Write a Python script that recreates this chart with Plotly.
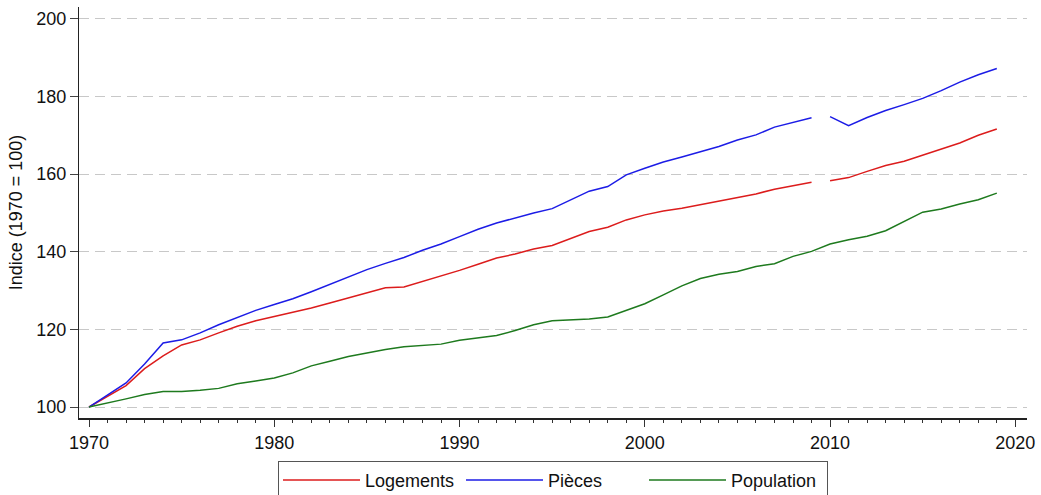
import plotly.graph_objects as go

# Years
years_old = list(range(1970, 2010))
years_new = list(range(2010, 2020))
years_all = list(range(1970, 2020))

# Logements (index 1970 = 100), old series 1970-2009 and new series 2010-2019
logements_old = [100, 102.7, 105.5, 109.9, 113.2, 116.0, 117.3, 119.1, 120.8, 122.2,
                 123.3, 124.5, 125.5, 126.8, 128.1, 129.4, 130.7, 130.9, 132.3, 133.6,
                 135.2, 136.8, 138.4, 139.4, 140.7, 141.6, 143.4, 145.2, 146.3, 148.2,
                 149.5, 150.5, 151.2, 152.1, 153.0, 154.0, 154.9, 156.1, 157.0, 157.9]
logements_new = [158.3, 159.1, 160.7, 162.2, 163.3, 164.8, 166.3, 168.0, 170.0, 171.6]

# Pièces
pieces_old = [100, 103.0, 106.2, 111.1, 116.5, 117.3, 119.1, 121.2, 123.1, 124.9,
              126.4, 127.9, 129.7, 131.6, 133.4, 135.4, 137.0, 138.5, 140.4, 142.0,
              143.9, 145.8, 147.4, 148.7, 150.0, 151.1, 153.4, 155.6, 156.8, 159.8,
              161.5, 163.1, 164.4, 165.7, 167.1, 168.8, 170.1, 172.1, 173.3, 174.5]
pieces_new = [174.8, 172.5, 174.6, 176.4, 177.9, 179.5, 181.5, 183.7, 185.6, 187.2]

# Population (continuous)
population = [100, 101.0, 102.1, 103.2, 104.0, 104.0, 104.3, 104.8, 106.0, 106.7,
              107.5, 108.8, 110.6, 111.8, 113.0, 113.9, 114.8, 115.5, 115.9, 116.2,
              117.2, 117.8, 118.4, 119.7, 121.2, 122.2, 122.5, 122.7, 123.2, 124.8,
              126.6, 128.9, 131.2, 133.1, 134.2, 134.9, 136.2, 136.9, 138.8, 140.1,
              142.0, 143.1, 144.0, 145.4, 147.8, 150.2, 151.0, 152.3, 153.4, 155.1]

y_ticks = [100, 120, 140, 160, 180, 200]
x_ticks = [1970, 1980, 1990, 2000, 2010, 2020]

RED = "#dc1c1c"
BLUE = "#1c1ce6"
GREEN = "#1e7a1e"
FONT = "Liberation Sans, Arial, sans-serif"

fig = go.Figure()
fig.add_trace(go.Scatter(x=years_old, y=logements_old, mode="lines", name="Logements",
                         legendgroup="log", line=dict(color=RED, width=1.5)))
fig.add_trace(go.Scatter(x=years_new, y=logements_new, mode="lines", name="Logements",
                         legendgroup="log", showlegend=False, line=dict(color=RED, width=1.5)))
fig.add_trace(go.Scatter(x=years_old, y=pieces_old, mode="lines", name="Pièces",
                         legendgroup="pie", line=dict(color=BLUE, width=1.5)))
fig.add_trace(go.Scatter(x=years_new, y=pieces_new, mode="lines", name="Pièces",
                         legendgroup="pie", showlegend=False, line=dict(color=BLUE, width=1.5)))
fig.add_trace(go.Scatter(x=years_all, y=population, mode="lines", name="Population",
                         line=dict(color=GREEN, width=1.5)))

fig.update_layout(
    width=1041, height=495,
    margin=dict(l=79, r=14, t=7, b=77, autoexpand=False),
    paper_bgcolor="white", plot_bgcolor="white",
    font=dict(family=FONT, size=18, color="#111111"),
    showlegend=True,
    legend=dict(orientation="h", x=0.5, xanchor="center", xref="paper",
                y=0.069, yanchor="top", yref="container",
                bordercolor="#555555", borderwidth=1, bgcolor="white",
                font=dict(size=18), itemwidth=77, entrywidth=91, entrywidthmode="pixels",
                tracegroupgap=0),
    xaxis=dict(range=[1969.46, 2020.63], tickvals=x_ticks, ticks="outside", ticklen=7,
               tickwidth=1, tickcolor="#333333", showgrid=False, zeroline=False,
               showline=True, linecolor="#222222", linewidth=2, automargin=False,
               minor=dict(dtick=1, tick0=1970, ticks="outside", ticklen=3,
                          tickcolor="#333333", showgrid=False),
               tickfont=dict(size=18)),
    yaxis=dict(range=[97.17, 203.05], tickvals=y_ticks, ticks="outside", ticklen=8,
               tickwidth=1, tickcolor="#444444", showgrid=True, gridcolor="#c8c8c8",
               gridwidth=1, griddash="10px,6px", zeroline=False, automargin=False,
               showline=True, linecolor="#222222", linewidth=1.3,
               title=dict(text="Indice (1970 = 100)", standoff=8, font=dict(size=18)),
               tickfont=dict(size=18)),
)

fig.write_html("out.html", config={"displayModeBar": False},
               post_script="document.body.style.margin='0';")
